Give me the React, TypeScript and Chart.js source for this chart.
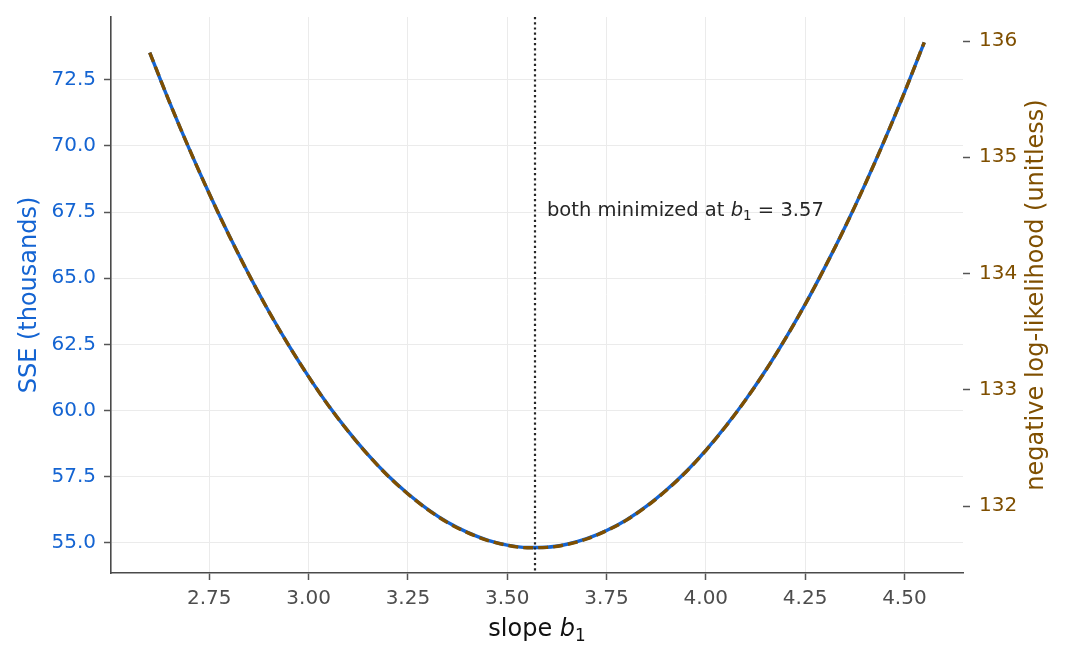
import React, { useEffect, useRef } from 'react';
import { Chart, registerables } from 'chart.js';

Chart.register(...registerables);

// ---- data ----
const SLOPE_B1 = [
  2.6, 2.65, 2.7, 2.75, 2.8, 2.85, 2.9, 2.95, 3.0, 3.05, 3.1, 3.15, 3.2, 3.25, 3.3, 3.35, 3.4, 3.45, 3.5, 3.55,
  3.6, 3.65, 3.7, 3.75, 3.8, 3.85, 3.9, 3.95, 4.0, 4.05, 4.1, 4.15, 4.2, 4.25, 4.3, 4.35, 4.4, 4.45, 4.5, 4.55,
];
const SSE_THOUSANDS = [
  73.53, 71.65, 69.87, 68.19, 66.61, 65.13, 63.74, 62.46, 61.28, 60.19, 59.21, 58.32, 57.53, 56.85, 56.26, 55.77,
  55.39, 55.1, 54.91, 54.82, 54.83, 54.94, 55.15, 55.46, 55.86, 56.37, 56.98, 57.68, 58.49, 59.4, 60.4, 61.5,
  62.71, 64.01, 65.42, 66.92, 68.52, 70.22, 72.02, 73.92,
];
const NEG_LOG_LIK = [
  135.901, 135.473, 135.068, 134.686, 134.326, 133.989, 133.673, 133.382, 133.113, 132.864, 132.641, 132.439,
  132.259, 132.104, 131.970, 131.858, 131.772, 131.706, 131.663, 131.642, 131.645, 131.670, 131.717, 131.788,
  131.879, 131.995, 132.134, 132.293, 132.478, 132.685, 132.912, 133.163, 133.438, 133.734, 134.055, 134.396,
  134.760, 135.147, 135.557, 135.989,
];
const X_TICKS = [2.75, 3.0, 3.25, 3.5, 3.75, 4.0, 4.25, 4.5];
const SSE_TICKS = [55.0, 57.5, 60.0, 62.5, 65.0, 67.5, 70.0, 72.5];
const NLL_TICKS = [132, 133, 134, 135, 136];
const B1_MIN = 3.57;
const X_RANGE = [2.5025, 4.6475];
const SSE_RANGE = [53.854, 74.876];
const NLL_RANGE = [131.4245, 136.2065];
const ANNOT_POS = [3.6, 67.5];

const BLUE = '#1464d2';
const BROWN = '#7f4f00';
const FONT = "'DejaVu Sans', 'Liberation Sans', sans-serif";

type Part = { t: string; size: number; italic?: boolean; dy?: number };

function drawRich(ctx: CanvasRenderingContext2D, parts: Part[], x: number, y: number, align: 'left' | 'center') {
  const widths = parts.map((p) => {
    ctx.font = `${p.italic ? 'italic ' : ''}${p.size}px ${FONT}`;
    return ctx.measureText(p.t).width;
  });
  const total = widths.reduce((a, b) => a + b, 0);
  let cx = align === 'center' ? x - total / 2 : x;
  ctx.textAlign = 'left';
  ctx.textBaseline = 'alphabetic';
  parts.forEach((p, i) => {
    ctx.font = `${p.italic ? 'italic ' : ''}${p.size}px ${FONT}`;
    ctx.fillText(p.t, cx, y + (p.dy || 0));
    cx += widths[i];
  });
}

const overlayPlugin = {
  id: 'overlay',
  afterDatasetsDraw(chart: any) {
    const ctx: CanvasRenderingContext2D = chart.ctx;
    const { chartArea } = chart;
    const xs = chart.scales.x;
    const ys = chart.scales.y;
    // vertical dotted line at the minimum
    const px = Math.round(xs.getPixelForValue(B1_MIN));
    ctx.save();
    ctx.strokeStyle = '#262626';
    ctx.lineWidth = 2.2;
    ctx.setLineDash([2.2, 3]);
    ctx.beginPath();
    ctx.moveTo(px, chartArea.top);
    ctx.lineTo(px, chartArea.bottom);
    ctx.stroke();
    ctx.restore();

    // annotation
    ctx.save();
    ctx.fillStyle = '#262626';
    const ax = xs.getPixelForValue(ANNOT_POS[0]);
    const ay = ys.getPixelForValue(ANNOT_POS[1]) + 4;
    drawRich(
      ctx,
      [
        { t: 'both minimized at ', size: 19.5 },
        { t: 'b', size: 19.5, italic: true },
        { t: '1', size: 13.6, dy: 4 },
        { t: ' = 3.57', size: 19.5 },
      ],
      ax,
      ay,
      'left'
    );
    ctx.restore();
  },
  afterDraw(chart: any) {
    const ctx: CanvasRenderingContext2D = chart.ctx;
    const { chartArea } = chart;
    const midY = (chartArea.top + chartArea.bottom) / 2;
    const midX = (chartArea.left + chartArea.right) / 2;
    ctx.save();
    // x title
    ctx.fillStyle = '#111111';
    drawRich(
      ctx,
      [
        { t: 'slope ', size: 24 },
        { t: 'b', size: 24, italic: true },
        { t: '1', size: 16.8, dy: 5 },
      ],
      midX,
      636,
      'center'
    );
    // left title
    ctx.save();
    ctx.translate(36, midY);
    ctx.rotate(-Math.PI / 2);
    ctx.fillStyle = BLUE;
    ctx.font = `24px ${FONT}`;
    ctx.textAlign = 'center';
    ctx.textBaseline = 'alphabetic';
    ctx.fillText('SSE (thousands)', 0, 0);
    ctx.restore();
    // right title
    ctx.save();
    ctx.translate(1043, midY);
    ctx.rotate(-Math.PI / 2);
    ctx.fillStyle = BROWN;
    ctx.font = `24px ${FONT}`;
    ctx.textAlign = 'center';
    ctx.textBaseline = 'alphabetic';
    ctx.fillText('negative log-likelihood (unitless)', 0, 0);
    ctx.restore();
    ctx.restore();
  },
};

const zeroPad = (s: any) => {
  s.paddingTop = 0;
  s.paddingBottom = 0;
  s.paddingLeft = 0;
  s.paddingRight = 0;
};

export default function App() {
  const ref = useRef<HTMLCanvasElement | null>(null);

  useEffect(() => {
    if (!ref.current) return;
    const sseData = SLOPE_B1.map((x, i) => ({ x, y: SSE_THOUSANDS[i] }));
    const nllData = SLOPE_B1.map((x, i) => ({ x, y: NEG_LOG_LIK[i] }));
    const chart = new Chart(ref.current, {
      type: 'line',
      data: {
        datasets: [
          {
            label: 'negative log-likelihood',
            data: nllData,
            yAxisID: 'y1',
            borderColor: BROWN,
            borderWidth: 3.4,
            borderDash: [10, 5],
            pointRadius: 0,
            fill: false,
            cubicInterpolationMode: 'monotone',
          },
          {
            label: 'SSE',
            data: sseData,
            yAxisID: 'y',
            borderColor: BLUE,
            borderWidth: 3.4,
            pointRadius: 0,
            fill: false,
            cubicInterpolationMode: 'monotone',
          },
        ],
      },
      options: {
        responsive: false,
        animation: false,
        devicePixelRatio: 1,
        layout: { padding: { top: 17, left: 0, right: 0, bottom: 0 } },
        plugins: { legend: { display: false }, tooltip: { enabled: false } },
        scales: {
          x: {
            type: 'linear',
            position: 'bottom',
            min: X_RANGE[0],
            max: X_RANGE[1],
            afterBuildTicks: (s: any) => {
              s.ticks = X_TICKS.map((v) => ({ value: v }));
            },
            afterFit: (s: any) => {
              s.height = 89;
              zeroPad(s);
            },
            ticks: {
              color: '#4d4d4d',
              font: { family: FONT, size: 20 },
              padding: 7,
              maxRotation: 0,
              autoSkip: false,
              callback: (v: any) => Number(v).toFixed(2),
            },
            grid: { color: '#ebebeb', lineWidth: 1, tickLength: 7, tickColor: '#555555', tickWidth: 1.5 },
            border: { display: true, color: '#4a4a4a', width: 1.6 },
            title: { display: false },
          },
          y: {
            type: 'linear',
            position: 'left',
            min: SSE_RANGE[0],
            max: SSE_RANGE[1],
            afterBuildTicks: (s: any) => {
              s.ticks = SSE_TICKS.map((v) => ({ value: v }));
            },
            afterFit: (s: any) => {
              s.width = 111;
              zeroPad(s);
            },
            ticks: {
              color: BLUE,
              font: { family: FONT, size: 20 },
              padding: 8,
              autoSkip: false,
              callback: (v: any) => Number(v).toFixed(1),
            },
            grid: { color: '#ebebeb', lineWidth: 1, tickLength: 7, tickColor: '#555555', tickWidth: 1.5 },
            border: { display: true, color: '#4a4a4a', width: 1.6 },
            title: { display: false },
          },
          y1: {
            type: 'linear',
            position: 'right',
            min: NLL_RANGE[0],
            max: NLL_RANGE[1],
            afterBuildTicks: (s: any) => {
              s.ticks = NLL_TICKS.map((v) => ({ value: v }));
            },
            afterFit: (s: any) => {
              s.width = 105;
              zeroPad(s);
            },
            ticks: {
              color: BROWN,
              font: { family: FONT, size: 20 },
              padding: 9,
              autoSkip: false,
              callback: (v: any) => String(Math.round(Number(v))),
            },
            grid: {
              drawOnChartArea: false,
              tickLength: 7,
              tickColor: '#555555',
              tickWidth: 1.5,
            },
            border: { display: false },
            title: { display: false },
          },
        },
      },
      plugins: [overlayPlugin],
    } as any);
    return () => chart.destroy();
  }, []);

  return (
    <div style={{ position: 'fixed', left: 0, top: 0, width: 1068, height: 662, background: '#ffffff' }}>
      <canvas ref={ref} width={1068} height={662} style={{ display: 'block', width: 1068, height: 662 }} />
    </div>
  );
}
